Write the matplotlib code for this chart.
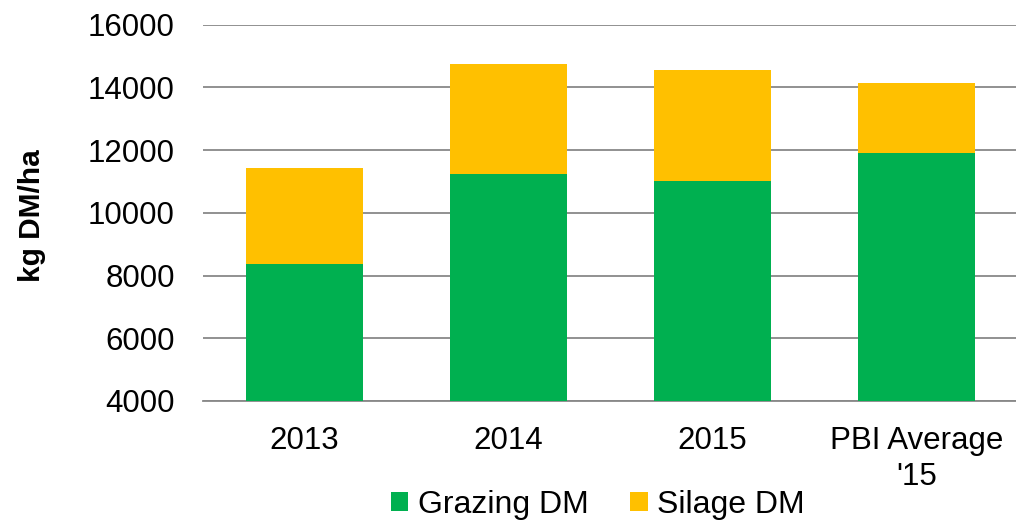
import matplotlib
matplotlib.use('Agg')
import matplotlib.pyplot as plt
import numpy as np

plt.rcParams['font.family'] = ['Liberation Sans', 'DejaVu Sans']

categories = ['2013', '2014', '2015', "PBI Average\n'15"]
grazing = [8360, 11245, 11000, 11915]
silage = [3070, 3500, 3555, 2205]

fig = plt.figure(figsize=(10.16, 5.22), dpi=100)
ax = fig.add_axes([202.5 / 1016, 1 - 401 / 522, 816 / 1016, (401 - 24.5) / 522])

x = np.arange(len(categories))
w = 0.574
ax.bar(x, grazing, w, bottom=0, color='#00B050', label='Grazing DM', zorder=3)
ax.bar(x, silage, w, bottom=grazing, color='#FFC000', label='Silage DM', zorder=3)

ax.set_ylim(4000, 16000)
ax.set_xlim(-0.5, len(categories) - 0.5)
ax.set_yticks(np.arange(4000, 16001, 2000))
ax.set_xticks(x)
ax.set_xticklabels(categories, linespacing=1.25)
ax.tick_params(axis='both', length=0, labelsize=22.5)
ax.tick_params(axis='y', pad=20)
ax.tick_params(axis='x', pad=18)
ax.grid(axis='y', color='#888888', linewidth=1.3, zorder=0)

for s in ['top', 'right', 'left']:
    ax.spines[s].set_visible(False)
ax.spines['bottom'].set_color('#888888')
ax.spines['bottom'].set_linewidth(1.3)

fig.text(32 / 1016, 1 - 216 / 522, 'kg DM/ha', rotation=90, ha='center', va='center',
         fontsize=21.5, fontweight='bold')

fig.legend(loc='center', bbox_to_anchor=(598 / 1016, 1 - 505 / 522), ncol=2, frameon=False,
           fontsize=23, handlelength=0.55, handleheight=0.55, handletextpad=0.3,
           columnspacing=1.3, borderpad=0)

fig.savefig('out.png', dpi=100)
